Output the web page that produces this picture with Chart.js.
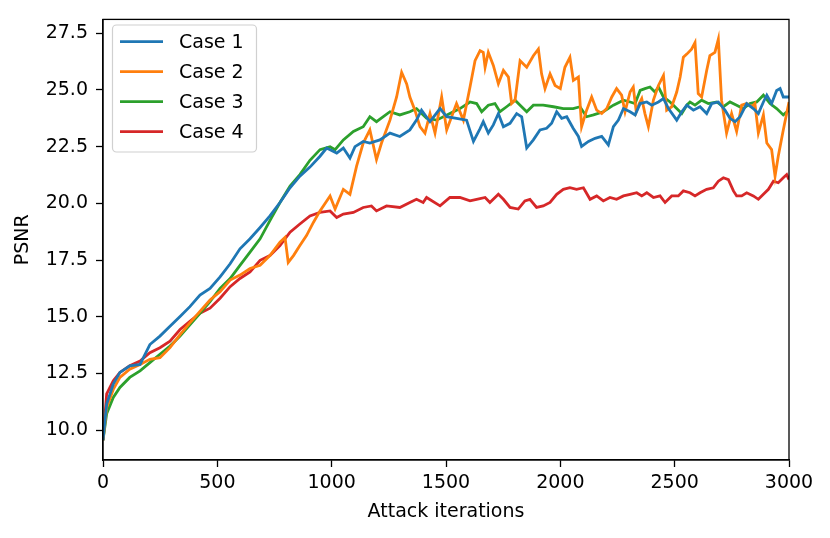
<!DOCTYPE html>
<html lang="en">
<head>
  <meta charset="UTF-8">
  <title>PSNR vs attack iterations</title>
  <script src="https://cdn.jsdelivr.net/npm/chart.js"></script>
  <style>
    html, body { margin: 0; padding: 0; background: #fff; }
    .chart { width: 830px; height: 538px; }
  </style>
</head>
<body>
<div class="chart">
  <canvas id="myCanvas" width="830" height="538"></canvas>
</div>
<script>
  const labels = ["Case 1", "Case 2", "Case 3", "Case 4"];
  const colors = ["#1f77b4", "#ff7f0e", "#2ca02c", "#d62728"];
  const xTicks = [0, 500, 1000, 1500, 2000, 2500, 3000];
  const yTicks = [10.0, 12.5, 15.0, 17.5, 20.0, 22.5, 25.0, 27.5];

  // values (iteration, psnr)
  const case1X = [0,16,45,74,117,162,180,205,249,293,337,380,424,468,512,556,599,643,687,730,774,818,861,905,949,978,1022,1051,1080,1102,1138,1167,1211,1255,1298,1342,1371,1393,1430,1474,1503,1546,1590,1620,1649,1663,1685,1707,1729,1751,1780,1809,1831,1853,1882,1911,1940,1962,1984,2006,2028,2056,2079,2093,2123,2152,2181,2210,2232,2254,2276,2305,2327,2349,2378,2400,2429,2451,2473,2509,2531,2553,2582,2611,2640,2662,2691,2720,2742,2764,2786,2815,2844,2866,2888,2903,2924,2946,2961,2975,3000];
  const case1Y = [9.56,11.16,12.04,12.55,12.84,12.9,13.27,13.78,14.15,14.58,15.02,15.45,15.96,16.25,16.76,17.34,18.0,18.44,18.94,19.45,20.04,20.69,21.2,21.6,22.08,22.44,22.22,22.44,22.0,22.5,22.73,22.66,22.8,23.1,22.95,23.24,23.67,24.11,23.6,24.18,23.82,23.75,23.67,22.73,23.3,23.6,23.1,23.46,23.96,23.38,23.53,23.96,23.82,22.44,22.8,23.24,23.31,23.53,24.04,23.75,23.82,23.31,22.95,22.51,22.73,22.87,22.95,22.58,23.38,23.67,24.18,24.04,23.9,24.4,24.47,24.33,24.47,24.62,24.18,23.67,24.04,24.33,24.11,24.26,23.96,24.4,24.47,24.11,23.75,23.6,23.82,24.4,24.18,23.96,24.47,24.77,24.4,24.98,25.06,24.69,24.69];

  const case2X = [0,16,45,74,117,162,205,249,293,337,380,424,468,512,556,599,643,687,730,774,796,810,833,861,890,920,949,993,1015,1051,1080,1109,1138,1167,1196,1218,1255,1284,1306,1328,1342,1364,1386,1408,1430,1452,1481,1503,1546,1576,1605,1627,1649,1663,1671,1685,1707,1729,1751,1773,1787,1802,1824,1853,1882,1904,1918,1933,1955,1977,2000,2020,2042,2057,2079,2093,2115,2137,2159,2181,2203,2225,2246,2268,2283,2305,2319,2332,2345,2356,2370,2385,2407,2429,2451,2465,2487,2509,2524,2538,2553,2574,2589,2603,2618,2640,2654,2676,2691,2705,2727,2749,2771,2793,2815,2837,2851,2866,2888,2903,2924,2939,2953,2975,3000];
  const case2Y = [9.56,11.0,11.8,12.33,12.69,12.9,13.13,13.2,13.64,14.22,14.73,15.24,15.74,16.11,16.62,16.84,17.13,17.27,17.7,18.29,18.5,17.4,17.7,18.14,18.58,19.16,19.67,20.33,19.75,20.62,20.4,21.64,22.66,23.24,21.93,22.66,23.67,24.69,25.78,25.27,24.69,24.11,23.38,23.1,23.96,23.1,24.69,23.24,24.4,23.67,25.13,26.29,26.73,26.66,26.0,26.66,26.08,25.27,25.86,25.57,24.4,24.55,26.29,26.0,26.51,26.8,25.71,25.06,25.71,25.2,25.06,26.0,26.44,25.42,25.57,23.38,24.11,24.69,24.11,23.96,24.18,24.69,25.06,24.77,24.04,24.91,25.13,24.04,24.4,24.62,23.96,23.38,24.55,25.2,25.64,24.11,24.26,24.91,25.57,26.44,26.58,26.8,27.09,24.84,24.69,25.86,26.51,26.66,27.24,24.55,23.1,23.96,23.17,24.33,24.4,24.26,24.4,23.1,23.9,22.66,22.37,21.2,22.08,23.24,24.47];

  const case3X = [0,16,45,74,117,162,205,249,293,337,380,424,468,512,556,599,643,687,730,774,818,861,905,949,993,1015,1051,1095,1138,1167,1196,1255,1298,1342,1371,1415,1459,1517,1561,1605,1634,1656,1685,1714,1736,1765,1802,1824,1853,1882,1925,1970,2013,2056,2086,2115,2145,2188,2232,2276,2305,2327,2349,2370,2392,2414,2429,2451,2480,2509,2531,2553,2567,2589,2618,2647,2684,2713,2742,2771,2800,2829,2859,2888,2917,2946,2975,3000];
  const case3Y = [9.56,10.73,11.45,11.89,12.33,12.62,12.98,13.35,13.71,14.15,14.65,15.16,15.67,16.25,16.69,17.27,17.85,18.44,19.24,20.04,20.76,21.27,21.9,22.37,22.5,22.37,22.8,23.17,23.38,23.82,23.6,24.04,23.9,24.04,24.18,23.75,23.67,23.96,24.18,24.47,24.4,24.04,24.33,24.4,24.04,24.26,24.55,24.33,24.04,24.33,24.33,24.26,24.18,24.18,24.26,23.82,23.9,24.04,24.33,24.55,24.47,24.4,24.98,25.06,25.13,24.91,25.13,24.69,24.47,24.18,23.96,24.33,24.47,24.33,24.55,24.4,24.47,24.26,24.47,24.33,24.18,24.4,24.47,24.77,24.4,24.18,23.9,24.11];

  const case4X = [0,16,45,74,117,162,205,249,293,337,380,424,468,512,556,599,643,687,730,774,818,861,905,949,993,1022,1051,1095,1138,1174,1196,1240,1298,1342,1371,1400,1415,1474,1517,1561,1605,1634,1671,1692,1729,1751,1780,1816,1845,1867,1896,1925,1955,1984,2013,2042,2071,2101,2130,2159,2188,2217,2246,2276,2305,2334,2356,2378,2407,2436,2458,2487,2516,2538,2567,2589,2611,2640,2669,2691,2713,2735,2757,2771,2793,2815,2844,2866,2888,2910,2932,2953,2975,2990,3000];
  const case4Y = [9.56,11.6,12.18,12.55,12.84,13.05,13.42,13.64,13.93,14.44,14.8,15.16,15.38,15.82,16.33,16.69,16.98,17.49,17.7,18.14,18.73,19.09,19.45,19.6,19.67,19.38,19.53,19.6,19.82,19.89,19.67,19.89,19.82,20.04,20.18,20.04,20.26,19.89,20.26,20.26,20.11,20.18,20.26,20.04,20.4,20.18,19.82,19.75,20.11,20.18,19.82,19.89,20.04,20.4,20.62,20.69,20.62,20.69,20.18,20.33,20.11,20.26,20.18,20.33,20.4,20.47,20.33,20.47,20.26,20.33,20.04,20.33,20.33,20.55,20.47,20.33,20.47,20.62,20.69,20.98,21.13,21.05,20.55,20.33,20.33,20.47,20.33,20.18,20.4,20.62,20.98,20.91,21.13,21.27,21.05];

  const xs = [case1X, case2X, case3X, case4X];
  const ys = [case1Y, case2Y, case3Y, case4Y];

  const FONT = "'DejaVu Sans', sans-serif";

  // matplotlib-like frame plus legend inside the axes
  const framePlugin = {
    id: "frame",
    afterDatasetsDraw(chart) {
      const ctx = chart.ctx;
      const a = chart.chartArea;
      ctx.save();
      ctx.strokeStyle = "#000";
      ctx.lineWidth = 1.3;
      ctx.strokeRect(a.left, a.top, a.right - a.left, a.bottom - a.top);

      // legend box
      const bx = 112.5, by = 25, bw = 144, bh = 127;
      ctx.beginPath();
      ctx.roundRect(bx, by, bw, bh, 4);
      ctx.fillStyle = "rgba(255,255,255,0.8)";
      ctx.fill();
      ctx.strokeStyle = "#d0d0d0";
      ctx.lineWidth = 1.2;
      ctx.stroke();

      ctx.font = "19px " + FONT;
      ctx.textBaseline = "middle";
      ctx.fillStyle = "#000";
      chart.data.datasets.forEach((ds, i) => {
        const yy = 41.7 + i * 30;
        ctx.beginPath();
        ctx.moveTo(120, yy);
        ctx.lineTo(163, yy);
        ctx.strokeStyle = ds.borderColor;
        ctx.lineWidth = 2.8;
        ctx.stroke();
        ctx.fillText(ds.label, 179, yy + 1);
      });
      ctx.restore();
    }
  };

  new Chart(document.getElementById("myCanvas"), {
    type: "line",
    data: {
      datasets: labels.map((lab, i) => ({
        label: lab,
        data: xs[i].map((x, j) => ({ x: x, y: ys[i][j] })),
        borderColor: colors[i],
        backgroundColor: colors[i],
        borderWidth: 2.8,
        pointRadius: 0,
        tension: 0,
        fill: false
      }))
    },
    options: {
      responsive: false,
      animation: false,
      devicePixelRatio: 1,
      layout: { padding: { left: 0, top: 15, right: 41, bottom: 0 } },
      plugins: {
        legend: { display: false },
        tooltip: { enabled: false }
      },
      scales: {
        x: {
          type: "linear",
          min: 0,
          max: 3000,
          afterFit(scale) { scale.height = 78; },
          afterBuildTicks(scale) { scale.ticks = xTicks.map(v => ({ value: v })); },
          grid: { drawOnChartArea: false, drawTicks: true, tickLength: 7, color: "#000", tickWidth: 1.3 },
          border: { display: true, color: "#000", width: 1.3 },
          ticks: {
            color: "#000",
            font: { family: FONT, size: 19 },
            padding: 5,
            maxRotation: 0,
            callback: v => String(v)
          },
          title: {
            display: true,
            text: "Attack iterations",
            color: "#000",
            font: { family: FONT, size: 19 },
            padding: { top: 0, bottom: 15 }
          }
        },
        y: {
          type: "linear",
          min: 8.69,
          max: 28.11,
          afterFit(scale) { scale.width = 103; },
          afterBuildTicks(scale) { scale.ticks = yTicks.map(v => ({ value: v })); },
          grid: { drawOnChartArea: false, drawTicks: true, tickLength: 7, color: "#000", tickWidth: 1.3 },
          border: { display: true, color: "#000", width: 1.3 },
          ticks: {
            color: "#000",
            font: { family: FONT, size: 19 },
            padding: 8,
            callback: v => Number(v).toFixed(1)
          },
          title: {
            display: true,
            text: "PSNR",
            color: "#000",
            font: { family: FONT, size: 19 },
            padding: { top: 12, bottom: 0 }
          }
        }
      }
    },
    plugins: [framePlugin]
  });
</script>
</body>
</html>
